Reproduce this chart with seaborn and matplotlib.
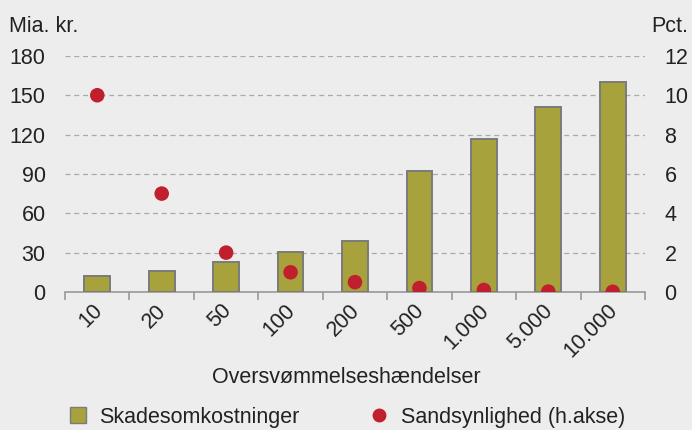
import numpy as np
import pandas as pd
import matplotlib
matplotlib.use('Agg')
import matplotlib.pyplot as plt
import seaborn as sns
from matplotlib.lines import Line2D

# Data
haendelser = ['10', '20', '50', '100', '200', '500', '1.000', '5.000', '10.000']
skade = [12, 16, 23, 30.5, 39, 92, 117, 141, 160]          # Mia. kr.
sandsynlighed = [10, 5, 2, 1, 0.5, 0.2, 0.1, 0.02, 0.01]   # Pct.

bg = '#EDEDED'
bar_col = '#A8A23C'
dot_col = '#C0202D'
txt = '#222222'
fs = 15.5

sns.set_theme(style='white')
plt.rcParams['font.family'] = ['Liberation Sans', 'DejaVu Sans']
plt.rcParams['text.color'] = txt
plt.rcParams['axes.labelcolor'] = txt
plt.rcParams['xtick.color'] = txt
plt.rcParams['ytick.color'] = txt

df = pd.DataFrame({'haendelse': haendelser, 'skade': skade, 'pct': sandsynlighed})

fig = plt.figure(figsize=(6.92, 4.30), dpi=100, facecolor=bg)
ax = fig.add_axes([0.094, 0.321, 0.838, 0.549])
ax.set_facecolor(bg)

sns.barplot(data=df, x='haendelse', y='skade', color=bar_col, width=0.4,
            edgecolor='#7A7A7A', linewidth=1.4, saturation=1, ax=ax, zorder=3)
ax.set_ylim(0, 180)
ax.set_yticks(range(0, 181, 30))
ax.set_xlim(-0.5, len(haendelser) - 0.5)
ax.yaxis.grid(True, linestyle=(0, (4, 3)), color='#AAAAAA', linewidth=0.9, zorder=0)
ax.set_axisbelow(True)
for s in ['left', 'right', 'top']:
    ax.spines[s].set_visible(False)
ax.spines['bottom'].set_color('#999999')
ax.spines['bottom'].set_linewidth(1.2)

# ticks on the category boundaries
ax.set_xticks(np.arange(len(haendelser)))
ax.set_xticklabels(haendelser, rotation=45, ha='right', va='center_baseline',
                   rotation_mode='anchor', fontsize=fs)
ax.set_xticks(np.arange(len(haendelser) + 1) - 0.5, minor=True)
ax.tick_params(axis='x', which='major', length=0, pad=10)
ax.tick_params(axis='x', which='minor', length=6, width=1.2, color='#999999', direction='out', bottom=True)
ax.tick_params(axis='y', length=0, labelsize=fs, pad=14)
ax.set_xlabel('')
ax.set_ylabel('')

ax2 = ax.twinx()
sns.scatterplot(x=np.arange(len(haendelser)), y=df['pct'], color=dot_col, s=110,
                edgecolor='none', ax=ax2, zorder=4)
ax2.set_ylim(0, 12)
ax2.set_yticks(range(0, 13, 2))
ax2.set_ylabel('')
ax2.tick_params(axis='y', length=0, labelsize=fs, pad=14)
for s in ['left', 'right', 'top', 'bottom']:
    ax2.spines[s].set_visible(False)
ax2.set_xlim(-0.5, len(haendelser) - 0.5)

fig.text(0.013, 0.915, 'Mia. kr.', fontsize=fs, ha='left', va='bottom')
fig.text(0.995, 0.915, 'Pct.', fontsize=fs, ha='right', va='bottom')
fig.text(0.5, 0.121, 'Oversvømmelseshændelser', fontsize=fs, ha='center', va='center')

handles = [
    Line2D([], [], marker='s', linestyle='none', markersize=11, markerfacecolor=bar_col,
           markeredgecolor='#7A7A7A', markeredgewidth=1.0, label='Skadesomkostninger'),
    Line2D([], [], marker='o', linestyle='none', markersize=10, markerfacecolor=dot_col,
           markeredgecolor='none', label='Sandsynlighed (h.akse)'),
]
fig.legend(handles=handles, loc='center', bbox_to_anchor=(0.5, 0.03), ncol=2,
           frameon=False, fontsize=fs, handlelength=1.0, handletextpad=0.5, columnspacing=3.2)

fig.savefig('out.png', dpi=100, facecolor=bg)
